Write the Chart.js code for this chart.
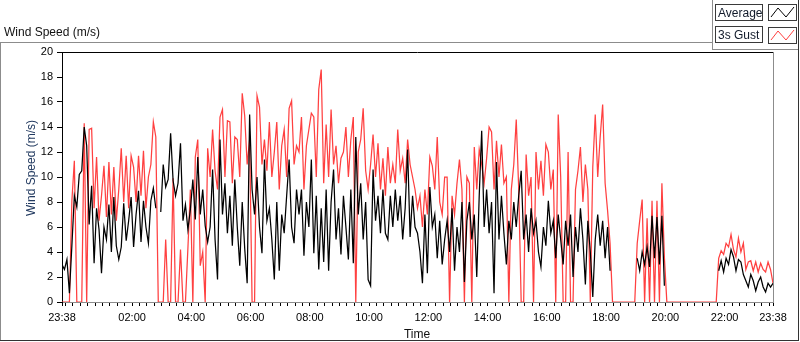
<!DOCTYPE html>
<html lang="en">
<head>
<meta charset="UTF-8">
<title>Wind Speed (m/s)</title>
<script src="https://cdn.jsdelivr.net/npm/chart.js@4.4.0/dist/chart.umd.min.js"></script>
<style>
    html, body { margin: 0; padding: 0; background: #fff; }
    body { width: 800px; height: 342px; position: relative; overflow: hidden;
           font-family: "Liberation Sans", Arial, sans-serif; }
    #windChart { position: absolute; left: 0; top: 0; }
    .frame { position: absolute; background: #8c8c8c; }
    .txt { position: absolute; white-space: nowrap; font-size: 12px; line-height: 14px; }
    .lgBox { position: absolute; box-sizing: border-box; border: 1px solid #3a3a3a; background: #fff; }
    .lgBox span { position: absolute; left: 2px; top: 1px; font-size: 12px; line-height: 14px; color: #111a2a; }
</style>
</head>
<body>
    <canvas id="windChart" width="800" height="342"></canvas>

    <!-- panel frame -->
    <div class="frame" style="left:0; top:42px; width:712px; height:1px;"></div>
    <div class="frame" style="left:0; top:42px; width:1px; height:299px;"></div>
    <div class="frame" style="left:0; top:340px; width:799px; height:1px; background:#333;"></div>
    <div class="frame" style="left:798px; top:0; width:1px; height:341px; background:#333;"></div>
    <div class="frame" style="left:712px; top:0; width:1px; height:50px;"></div>
    <div class="frame" style="left:712px; top:49px; width:86px; height:1px;"></div>

    <div class="txt" style="left:4px; top:25px; color:#111;">Wind Speed (m/s)</div>
    <div class="txt" style="left:-29px; top:161px; width:120px; text-align:center; color:#223a60; transform:rotate(-90deg);">Wind Speed (m/s)</div>
    <div class="txt" style="left:377px; top:327px; width:80px; text-align:center; color:#111;">Time</div>

    <!-- legend -->
    <div class="lgBox" style="left:715px; top:4px; width:48px; height:17px;"><span>Average</span></div>
    <div class="lgBox" style="left:768px; top:4px; width:29px; height:17px;">
        <svg width="27" height="15" style="position:absolute;left:0;top:0">
            <polyline points="2,12 9,3 17,12 25,2" fill="none" stroke="#000" stroke-width="1"/>
        </svg>
    </div>
    <div class="lgBox" style="left:715px; top:26px; width:48px; height:17px;"><span>3s Gust</span></div>
    <div class="lgBox" style="left:768px; top:27px; width:29px; height:17px;">
        <svg width="27" height="15" style="position:absolute;left:0;top:0">
            <polyline points="2,12 9,3 17,12 25,2" fill="none" stroke="#ff4040" stroke-width="1"/>
        </svg>
    </div>

<script>
// one sample every 5 minutes, starting 23:38
const sampleMinutes = 5;
const startClock = '23:38';

// Average wind speed (m/s); null = no reading
const avgSpeed = [
    3.0, 2.6, 3.4, 0.7, 4.5, 8.5, 7.6, 10.2, 10.5, 14.0, 12.5, 6.2,
    9.3, 3.1, 7.5, 5.8, 2.3, 6.0, 5.0, 7.8, 4.0, 8.4, 4.5, 3.4,
    4.4, 7.9, 4.9, 6.5, 8.4, 4.4, 7.0, 8.9, 4.8, 8.1, 6.0, 4.7,
    8.1, 9.1, 7.5, null, 7.2, 11.0, 9.2, 9.8, 13.5, 9.7, 8.5, 9.5,
    12.7, 6.5, 7.8, 5.8, 7.4, 9.8, 6.6, 11.6, 7.0, 9.0, 6.1, 4.8,
    6.0, 10.6, 5.0, 1.8, 13.0, 7.0, 9.5, 5.5, 8.5, 4.5, 9.8, 6.0,
    2.9, 8.0, 4.3, 1.5, 15.0, 9.0, 7.0, 10.0, 6.0, 3.9, 11.4, 6.5,
    7.5, 5.0, 1.8, 8.0, 2.5, 7.0, 5.5, 8.5, 11.4, 6.0, 4.7, 9.0,
    7.0, 9.0, 3.7, 8.0, 6.0, 11.4, 3.9, 8.5, 2.6, 7.5, 3.2, 9.0,
    2.5, 8.0, 10.6, 5.0, 7.5, 3.8, 8.5, 6.0, 3.4, 9.0, 3.1, 13.2,
    7.0, 9.5, 5.0, 8.0, 1.8, 1.3, 10.6, 6.5, 8.5, 5.5, 9.0, 5.5,
    5.0, 8.5, 6.0, 9.0, 6.5, 8.5, 5.0, 7.5, 12.2, 5.2, 8.5, 6.0,
    5.5, 4.0, 1.5, 7.0, 2.3, 9.2, 6.0, 7.0, 3.5, 6.5, 3.0, 5.0,
    6.5, 4.0, 7.5, 2.5, 6.0, 4.0, 8.0, 1.6, 6.5, 8.0, 5.0, 7.0,
    2.0, 8.5, 13.7, 6.0, 9.0, 5.5, 8.0, 0.7, 11.2, 5.0, 8.5, 5.5,
    3.0, 6.5, 5.0, 8.0, 6.0, 8.5, 10.5, 5.0, 7.0, 4.0, 7.5, 5.5,
    6.5, 4.0, 2.8, 6.0, 4.5, 8.1, 5.5, 6.5, 3.5, 7.0, 5.0, 3.0,
    6.5, 4.5, 7.0, 2.0, 6.0, 4.0, 7.5, 5.0, 1.4, 6.5, 4.0, 0.4,
    5.0, 7.0, 4.5, 6.5, 3.5, 6.0, 2.5, null, null, null, null, null,
    null, null, null, null, null, 3.5, 2.5, 4.0, 3.0, 4.4, 2.8, 6.9,
    3.5, 6.8, 3.0, 6.9, 1.3, null, null, null, null, null, null, null,
    null, null, null, null, null, null, null, null, null, null, null, null,
    null, null, 2.5, 3.3, 2.4, 3.5, 3.0, 4.2, 3.6, 2.5, 3.4, 3.2,
    2.2, 1.7, 1.2, 2.2, 1.7, 0.9, 1.6, 2.0, 1.2, 0.8, 1.5, 1.2,
    1.5
];

// 3 second gust (m/s); 0 where the sensor reported nothing
const gustSpeed = [
    0, 0, 0, 0, 8.1, 11.3, 0, 0, 0, 14.3, 0, 13.8,
    13.9, 7.5, 11.6, 6.5, 8.5, 10.9, 6.8, 11.2, 7.0, 10.8, 6.5, 9.0,
    12.3, 8.0, 11.7, 7.5, 11.7, 10.8, 8.0, 11.7, 8.5, 12.1, 7.5, 10.0,
    11.0, 14.4, 13.2, 0, 0, 0, 5.0, 0, 0, 9.9, 0, 0,
    4.2, 0, 0, 4.3, 9.0, 0, 11.6, 13.0, 2.9, 4.0, 0, 12.3,
    10.0, 13.8, 10.5, 9.0, 14.8, 15.4, 10.0, 14.5, 14.4, 9.5, 13.2, 13.0,
    10.0, 16.7, 14.9, 11.0, 13.0, 0, 0, 16.5, 15.6, 11.0, 13.0, 10.5,
    14.4, 10.0, 12.0, 14.4, 9.0, 12.5, 13.8, 10.0, 15.5, 16.1, 11.0, 12.5,
    12.0, 14.8, 9.0, 12.5, 13.8, 15.1, 14.8, 10.0, 17.0, 18.6, 9.5, 14.2,
    10.0, 15.4, 11.0, 12.5, 9.5, 11.5, 12.0, 14.0, 10.0, 13.0, 14.8, 0,
    12.0, 13.0, 15.5, 10.5, 9.0, 11.0, 13.4, 10.0, 12.7, 9.0, 11.5, 8.5,
    12.4, 9.5, 11.0, 9.5, 13.8, 10.5, 11.5, 9.5, 13.0, 11.0, 10.0, 9.0,
    7.5, 8.5, 6.0, 9.0, 7.0, 11.6, 10.9, 9.0, 13.2, 8.0, 7.0, 10.0,
    10.0, 0, 8.5, 7.0, 9.5, 11.4, 9.0, 0, 10.0, 9.5, 0, 12.4,
    9.0, 12.2, 11.0, 9.5, 11.5, 14.0, 13.6, 9.0, 12.9, 10.0, 12.6, 9.5,
    10.0, 0, 9.0, 11.0, 14.6, 9.0, 0, 0, 11.8, 8.5, 10.0, 0,
    12.0, 9.0, 11.3, 8.5, 12.6, 12.0, 9.0, 10.6, 0, 15.0, 10.0, 0,
    0, 12.0, 0, 0, 9.0, 10.5, 12.4, 8.0, 11.0, 9.0, 0, 10.8,
    15.0, 10.0, 13.2, 15.8, 9.5, 7.3, 4.7, 0, 0, 0, 0, 0,
    0, 0, 0, 0, 0, 4.7, 6.5, 8.2, 0, 6.7, 0, 8.1,
    0, 8.1, 0, 9.5, 3.6, 0, 0, 0, 0, 0, 0, 0,
    0, 0, 0, 0, 0, 0, 0, 0, 0, 0, 0, 0,
    0, 0, 3.5, 4.1, 3.8, 4.7, 4.4, 5.4, 4.2, 3.6, 5.1, 4.0,
    4.7, 2.6, 3.2, 3.3, 2.5, 3.2, 2.4, 3.1, 2.6, 2.4, 3.2, 2.6,
    1.5
];

const yTicks = [0, 2, 4, 6, 8, 10, 12, 14, 16, 18, 20];
const timeTickLabels = ['23:38', '02:00', '04:00', '06:00', '08:00', '10:00', '12:00',
                        '14:00', '16:00', '18:00', '20:00', '22:00', '23:38'];
const minorTickEvery = 15; // minutes, on the clock

const dayMinutes = 1440;
function clockToMin(s) {
    const p = s.split(':');
    return parseInt(p[0], 10) * 60 + parseInt(p[1], 10);
}
const start = clockToMin(startClock);
function offsetOf(label, isLast) {
    if (isLast) return dayMinutes;
    return (clockToMin(label) - start + dayMinutes) % dayMinutes;
}

const majorTicks = timeTickLabels.map((l, i) => ({
    value: offsetOf(l, i === timeTickLabels.length - 1),
    label: l
}));
const firstMinor = (minorTickEvery - start % minorTickEvery) % minorTickEvery;
let xTickValues = majorTicks.map(t => t.value);
for (let t = firstMinor; t < dayMinutes; t += minorTickEvery) {
    if (xTickValues.indexOf(t) < 0) xTickValues.push(t);
}
xTickValues.sort((a, b) => a - b);

function toPoints(arr) {
    return arr.map((v, i) => ({ x: i * sampleMinutes, y: v }));
}

const tickFont = { family: '"Liberation Sans", Arial, sans-serif', size: 11 };

// top and right edge of the plot box
const plotFrame = {
    id: 'plotFrame',
    afterDraw(chart) {
        const a = chart.chartArea;
        const ctx = chart.ctx;
        ctx.save();
        ctx.lineWidth = 1;
        ctx.strokeStyle = '#000';
        ctx.beginPath();
        ctx.moveTo(a.left, Math.round(a.top) + 0.5);
        ctx.lineTo(a.right, Math.round(a.top) + 0.5);
        ctx.stroke();
        ctx.strokeStyle = '#8c8c8c';
        ctx.beginPath();
        ctx.moveTo(Math.round(a.right) + 0.5, a.top);
        ctx.lineTo(Math.round(a.right) + 0.5, a.bottom);
        ctx.stroke();
        ctx.restore();
    }
};

new Chart(document.getElementById('windChart'), {
    type: 'line',
    data: {
        datasets: [
            {
                label: 'Average',
                data: toPoints(avgSpeed),
                borderColor: '#000',
                borderWidth: 1.25,
                spanGaps: false
            },
            {
                label: '3s Gust',
                data: toPoints(gustSpeed),
                borderColor: '#ff4040',
                borderWidth: 1.25
            }
        ]
    },
    options: {
        responsive: false,
        animation: false,
        events: [],
        layout: { padding: { left: 0, right: 27, top: 52, bottom: 0 } },
        elements: { point: { radius: 0 }, line: { tension: 0 } },
        plugins: { legend: { display: false }, tooltip: { enabled: false } },
        scales: {
            x: {
                type: 'linear',
                min: 0,
                max: dayMinutes,
                afterBuildTicks: s => { s.ticks = xTickValues.map(v => ({ value: v })); },
                afterFit: s => { s.height = 40; },
                ticks: {
                    autoSkip: false,
                    maxRotation: 0,
                    padding: 5,
                    color: '#000',
                    font: tickFont,
                    callback: v => {
                        const m = majorTicks.find(t => t.value === v);
                        return m ? m.label : '';
                    }
                },
                grid: { drawOnChartArea: false, drawTicks: true, tickLength: 4, color: '#000' },
                border: { color: '#8c8c8c' }
            },
            y: {
                min: 0,
                max: 20,
                afterBuildTicks: s => { s.ticks = yTicks.map(v => ({ value: v })); },
                afterFit: s => { s.width = 62; },
                ticks: { padding: 4, color: '#000', font: tickFont },
                grid: { drawOnChartArea: false, drawTicks: true, tickLength: 5, color: '#000' },
                border: { color: '#000' }
            }
        }
    },
    plugins: [plotFrame]
});
</script>
</body>
</html>
